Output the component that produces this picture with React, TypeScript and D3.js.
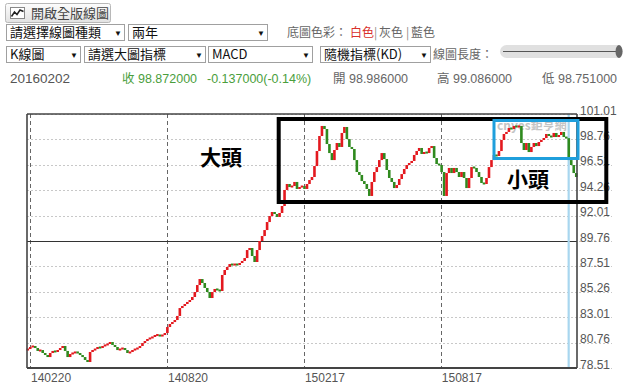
import React from 'react';
import * as d3 from 'd3';

const firstOpen = 80.1;
const closes = [
  80.19, 80.37, 80.46, 80.28, 80.02, 80.10, 79.84, 79.66, 79.48, 79.84,
  80.02, 79.93, 80.10, 80.28, 80.46, 80.02, 79.48, 79.75, 79.84, 79.93,
  79.84, 79.66, 79.48, 79.22, 79.04, 79.93, 80.10, 80.19, 80.37, 80.28,
  80.46, 80.55, 80.64, 80.81, 80.55, 80.37, 80.10, 80.19, 80.28, 80.10,
  79.84, 79.93, 80.10, 80.19, 80.28, 80.46, 80.72, 80.90, 81.08, 81.17,
  81.26, 81.43, 81.43, 81.34, 81.43, 81.61, 82.14, 82.41,
  82.58, 82.76, 83.12, 83.82, 84.00, 84.18, 84.36, 84.53, 84.80, 85.24,
  85.86, 86.39, 86.04, 85.60, 85.24, 84.71, 85.24, 85.51, 85.42, 85.33,
  86.75, 87.19, 87.46, 87.72, 87.63, 87.72, 87.63, 87.81, 87.99, 88.25,
  88.96, 89.14, 88.43, 87.90, 88.96, 89.76, 90.20, 90.73, 91.44, 91.97,
  92.33, 92.15, 91.89, 92.24, 92.86, 94.28,
  94.81, 94.54, 94.63, 94.99, 94.37, 94.54, 94.63, 94.37, 94.81, 95.16,
  95.43, 96.40, 97.73, 99.06, 99.95, 99.68, 98.35, 97.55, 96.93, 97.82,
  98.44, 98.09, 99.33, 99.86, 98.79, 98.09, 97.91, 96.93, 95.87, 95.61,
  95.07, 94.81, 94.37, 93.75, 94.99, 95.87, 96.31, 96.93, 97.55, 97.02,
  96.05, 95.34, 94.99, 94.45, 94.72, 95.25, 95.69, 96.14, 96.49, 96.67,
  96.85, 97.38, 97.73, 98.00, 97.47, 97.64, 97.55, 98.00, 98.17, 97.11,
  96.58, 96.49,
  95.87, 93.75, 95.78, 96.23, 95.78, 96.23, 95.87, 95.43, 95.87, 95.34,
  94.45, 95.34, 96.31, 96.23, 95.87, 95.43, 94.90, 94.81, 95.34, 96.31,
  96.93, 97.38, 97.29, 97.73, 98.71, 99.24, 99.42, 99.77, 99.68, 99.95,
  99.86, 99.95, 98.44, 97.82, 98.44, 97.64, 98.09, 98.44, 98.17, 98.53,
  98.71, 98.88, 99.24, 99.06, 98.97, 99.33, 98.97, 99.15, 99.42, 98.97,
  98.87, 96.93, 96.49, 95.78, 95.43,
];
const firstDate = '140217';
const lastDate = '160212';
const yTicks = [78.51, 80.76, 83.01, 85.26, 87.51, 89.76, 92.01, 94.26, 96.51, 98.76, 101.01];
const xTickLabels = ['140220', '140820', '150217', '150817'];
const crosshairDate = '160202';

const FONT = '"Liberation Sans", Arial, "Noto Sans CJK TC", sans-serif';
const CJK = '"Noto Sans CJK TC", "Liberation Sans", sans-serif';
const UP = '#e3191f';
const DOWN = '#2f8a1e';

const parse = d3.timeParse('%y%m%d');
const left = 27, right = 577, top = 114, bottom = 368;

const Select = ({ x, y, w, label }: { x: number; y: number; w: number; label: string }) => (
  <g>
    <rect x={x + 0.5} y={y + 0.5} width={w} height={16} fill="#fff" stroke="#a0a0a0" />
    <text x={x + 4} y={y + 13} fontSize={13} fontFamily={CJK} fill="#111">{label}</text>
    <text x={x + w - 10} y={y + 12} fontSize={8} fontFamily={FONT} fill="#111">▼</text>
  </g>
);

export default function App() {
  const x = d3.scaleTime().domain([parse('140216')!, parse('160213')!]).range([left, right]);
  const y = d3.scaleLinear().domain([78.51, 101.01]).range([bottom, top]);
  const dateAt = d3.scaleLinear<Date>()
    .domain([0, closes.length - 1])
    .range([parse(firstDate)!, parse(lastDate)!]);

  const candles = closes.map((c, i) => {
    const o = i === 0 ? firstOpen : closes[i - 1];
    const cx = x(dateAt(i));
    const y0 = y(Math.max(o, c));
    const h = Math.abs(y(o) - y(c));
    return { cx, y0: h < 2 ? y0 - (2 - h) / 2 : y0, h: Math.max(2, h), up: c >= o };
  });

  const cross = x(parse(crosshairDate)!);

  return (
    <svg width={635} height={390} style={{ position: 'absolute', left: 0, top: 0, background: '#fff' }}>
      <defs>
        <linearGradient id="btn" x1="0" y1="0" x2="0" y2="1">
          <stop offset="0" stopColor="#fdfdfd" />
          <stop offset="1" stopColor="#e2e2e2" />
        </linearGradient>
      </defs>

      {/* toolbar */}
      <rect x={5.5} y={3.5} width={105} height={19} rx={2} fill="url(#btn)" stroke="#b8b8b8" />
      <rect x={10.5} y={7.5} width={14} height={11} fill="#fff" stroke="#888" />
      <path d="M11.5,16.5 L14.5,12 L17,14.5 L20,10 L23.5,11.5" fill="none" stroke="#222" strokeWidth={1.5} />
      <text x={31} y={18} fontSize={13} fontFamily={CJK} fill="#444">開啟全版線圖</text>

      <Select x={6} y={24} w={118} label="請選擇線圖種類" />
      <Select x={128} y={24} w={139} label="兩年" />
      <text x={287} y={37} fontSize={12} fontFamily={CJK} fill="#666">底圖色彩：</text>
      <text x={350} y={37} fontSize={12} fontFamily={CJK} fill="#d9302c">白色</text>
      <text x={374} y={37} fontSize={12} fontFamily={CJK} fill="#888">|</text>
      <text x={379} y={37} fontSize={12} fontFamily={CJK} fill="#666">灰色</text>
      <text x={406} y={37} fontSize={12} fontFamily={CJK} fill="#888">|</text>
      <text x={411} y={37} fontSize={12} fontFamily={CJK} fill="#666">藍色</text>

      <Select x={6} y={46} w={74} label="K線圖" />
      <Select x={84} y={46} w={121} label="請選大圖指標" />
      <Select x={208} y={46} w={104} label="MACD" />
      <Select x={320} y={46} w={110} label="隨機指標(KD)" />
      <text x={433} y={59} fontSize={12} fontFamily={CJK} fill="#666">線圖長度：</text>
      <rect x={500} y={45} width={123} height={13} rx={6.5} fill="#e0e0e0" />
      <line x1={503} x2={619} y1={51.5} y2={51.5} stroke="#555" strokeWidth={1} />
      <ellipse cx={619} cy={51.5} rx={3.5} ry={6.5} fill="#666" />

      <text x={10} y={83} fontSize={13.5} fontFamily={FONT} fill="#555">20160202</text>
      <text x={122} y={83} fontSize={12.5} fontFamily={FONT} fill="#4a9e3c">收 98.872000</text>
      <text x={207} y={83} fontSize={12.5} fontFamily={FONT} fill="#4a9e3c">-0.137000(-0.14%)</text>
      <text x={333} y={83} fontSize={12.5} fontFamily={FONT} fill="#666">開 98.986000</text>
      <text x={437} y={83} fontSize={12.5} fontFamily={FONT} fill="#666">高 99.086000</text>
      <text x={542} y={83} fontSize={12.5} fontFamily={FONT} fill="#666">低 98.751000</text>

      {/* grid */}
      {yTicks.map((t) => (
        <line key={'g' + t} x1={left} x2={612} y1={Math.round(y(t)) + 0.5} y2={Math.round(y(t)) + 0.5}
          stroke="#c8c8c8" strokeDasharray="2,2" />
      ))}
      {xTickLabels.map((t) => (
        <line key={'v' + t} x1={Math.round(x(parse(t)!)) + 0.5} x2={Math.round(x(parse(t)!)) + 0.5}
          y1={top} y2={bottom} stroke="#666" strokeDasharray="4,3" />
      ))}
      <line x1={left} x2={right} y1={Math.round(y(89.76)) + 0.5} y2={Math.round(y(89.76)) + 0.5} stroke="#333" />

      {/* crosshair */}
      <line x1={cross} x2={cross} y1={top} y2={bottom} stroke="#a8d6ef" strokeWidth={2.2} />

      {/* watermark */}
      <text x={497} y={130} fontSize={12} fontWeight={700} fontFamily={CJK} fill="#c4c4c4">cnyes鉅亨網</text>

      {/* candles */}
      {candles.map((d, i) => (
        <rect key={i} x={d.cx - 1.3} y={d.y0} width={2.6} height={d.h} fill={d.up ? UP : DOWN} />
      ))}

      {/* frame */}
      <line x1={left} x2={right} y1={top} y2={top} stroke="#444" strokeWidth={1.6} />
      <line x1={left} x2={right} y1={bottom} y2={bottom} stroke="#444" strokeWidth={1.8} />
      <line x1={left} x2={left} y1={top} y2={bottom} stroke="#444" strokeWidth={1.6} />
      <line x1={right} x2={right} y1={top} y2={bottom} stroke="#444" strokeWidth={1.6} />

      {yTicks.map((t) => (
        <text key={'t' + t} x={580} y={y(t) + 0.5} fontSize={12} fontFamily={FONT} fill="#555">{t.toFixed(2)}</text>
      ))}
      {xTickLabels.map((t) => (
        <text key={'l' + t} x={x(parse(t)!) + 1} y={382} fontSize={12} fontFamily={FONT} fill="#555">{t}</text>
      ))}

      {/* annotations */}
      <rect x={278.7} y={119} width={327.6} height={83} fill="none" stroke="#000" strokeWidth={4} />
      <rect x={494} y={120.5} width={84} height={38} fill="none" stroke="#1f9fdc" strokeWidth={3} />
      <text x={200} y={165} fontSize={21} fontWeight={700} fontFamily={CJK} fill="#000">大頭</text>
      <text x={507} y={187} fontSize={21} fontWeight={700} fontFamily={CJK} fill="#000">小頭</text>
    </svg>
  );
}
